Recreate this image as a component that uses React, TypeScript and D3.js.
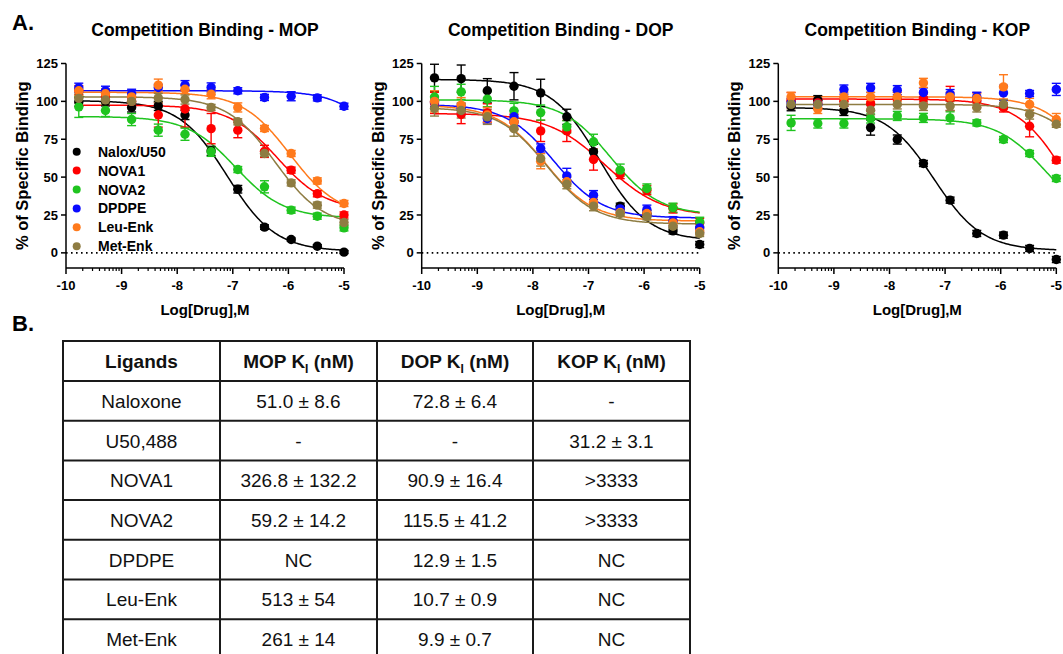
import React from "react";
import * as d3 from "d3";

// log[drug] of the 11 concentrations (3-fold dilutions)
const logDose = [-9.77, -9.29, -8.82, -8.34, -7.86, -7.39, -6.91, -6.43, -5.95, -5.48, -5.0];

const ligands = ["Nalox/U50", "NOVA1", "NOVA2", "DPDPE", "Leu-Enk", "Met-Enk"];
const colors = ["#000000", "#ff0000", "#1fc41f", "#0a0aff", "#ff7a1c", "#8e7c42"];

const xTicks = [-10, -9, -8, -7, -6, -5];
const yTicks = [0, 25, 50, 75, 100, 125];

// MOP
const mopNalox = [99.7, 100, 96, 97, 91, 67.3, 42, 17, 8.8, 4.4, 0.5];
const mopNova1 = [107.4, 103, 100, 91, 95, 82, 81, 67, 54.6, 39, 25];
const mopNova2 = [96.4, 94, 88, 81, 78.3, 66.7, 55, 43.6, 28.2, 24.2, 16.5];
const mopDpdpe = [109, 107, 105, 109.2, 110.7, 109.2, 107, 102.6, 103.4, 102.3, 96.8];
const mopLeu = [107, 105, 103, 110.7, 108, 104.7, 96, 82.1, 65.6, 47.5, 32.6];
const mopMet = [102, 101, 100, 102.3, 101.2, 96, 86.5, 65.6, 46.2, 31.5, 20];
const mopSem = [
  [3, 3, 3, 3, 3, 3, 2.5, 1.5, 1, 1, 1],
  [3, 5, 3, 8, 12, 10, 5, 4, 2, 2, 2],
  [7, 4, 4, 4, 4, 3, 2, 4, 2, 2, 2],
  [3, 3, 3, 2, 3, 3, 2, 2, 3, 2, 2],
  [3, 3, 3, 4, 3, 3, 3, 2, 2, 2, 2],
  [3, 3, 3, 3, 3, 2, 2, 2, 2, 2, 2],
];
// [top, bottom, logIC50, hill]
const mopFits = [
  [100.5, 1, -7.1, 1],
  [97.5, 28, -6.2, 1],
  [90, 23, -6.95, 1],
  [107, 0, -4.0, 1],
  [106, 24, -5.97, 1],
  [103, 17, -6.24, 1],
];

// DOP
const dopNalox = [115.5, 115, 107, 110, 105.6, 89.8, 66.7, 30.8, 26, 14.5, 5.5];
const dopNova1 = [99, 91.3, 92.4, 86.5, 80.5, 80.5, 61.6, 52, 41.4, 29.3, 19.8];
const dopNova2 = [102.9, 106.3, 101.5, 93.7, 92.6, 83.2, 73.3, 54.6, 42.5, 29.8, 20.5];
const dopDpdpe = [99.7, 95.3, 88.7, 89.8, 68.9, 50.8, 38.1, 29, 28.5, 20.9, 16.5];
const dopLeu = [100, 97.5, 91, 86.5, 60.5, 46.9, 33.2, 26.6, 26, 19.8, 13.9];
const dopMet = [95.3, 94, 89.8, 82, 62.3, 45.3, 30.8, 26, 23.8, 17.6, 12.8];
const dopSem = [
  [9, 9, 8, 9, 9, 5, 5, 2, 2, 2, 2],
  [7, 6, 6, 5, 7, 7, 7, 3, 3, 3, 3],
  [7, 5, 5, 5, 5, 4, 5, 4, 3, 3, 3],
  [3, 3, 3, 4, 3, 5, 3, 2, 3, 3, 3],
  [7, 5, 5, 5, 5, 3, 3, 2, 2, 2, 2],
  [5, 5, 5, 5, 5, 3, 3, 2, 2, 2, 2],
];
const dopFits = [
  [114.5, 8, -6.8, 1],
  [92, 24, -6.7, 0.85],
  [101, 25, -6.6, 1],
  [98, 23, -7.62, 1],
  [97.5, 21, -7.78, 1],
  [96, 19, -7.75, 1],
];

// KOP
const kopNalox = [96.8, 100.8, 93.7, 82.7, 74.8, 59, 34.8, 12.8, 11.7, 2.9, -4.4];
const kopNova1 = [100.8, 99, 100, 98.6, 101.9, 101.9, 101.9, 100.8, 96, 83.6, 61.2];
const kopNova2 = [85.8, 85.4, 85.4, 88.7, 90.4, 89.1, 89.1, 85.8, 74.8, 65.6, 49.1];
const kopDpdpe = [99, 98, 107.8, 108.9, 107.4, 105.9, 104.8, 103, 105.6, 105.2, 107.9];
const kopLeu = [103, 95, 103, 103, 103, 112.2, 103, 102, 109.6, 98, 88];
const kopMet = [98, 98, 98, 94.2, 98, 97, 97, 96, 98, 91.3, 84.9];
const kopSem = [
  [3, 3, 3, 5, 3, 2, 2, 2, 2, 2, 2],
  [5, 3, 3, 5, 4, 3, 8, 5, 3, 7, 2],
  [5, 3, 3, 3, 3, 3, 4, 2, 2, 2, 2],
  [3, 3, 3, 3, 3, 3, 3, 3, 5, 2, 4],
  [3, 3, 3, 3, 3, 3, 3, 3, 8, 4, 4],
  [3, 3, 3, 3, 3, 3, 3, 3, 3, 3, 2],
];
const kopFits = [
  [96, 1.5, -7.2, 1],
  [101.5, 0, -4.82, 1],
  [88.5, 20, -5.2, 1],
  null,
  [103, 0, -4.23, 1],
  [98, 0, -4.18, 1],
];

const panels = [
  { title: "Competition Binding - MOP", means: [mopNalox, mopNova1, mopNova2, mopDpdpe, mopLeu, mopMet], sem: mopSem, fits: mopFits, legend: true },
  { title: "Competition Binding - DOP", means: [dopNalox, dopNova1, dopNova2, dopDpdpe, dopLeu, dopMet], sem: dopSem, fits: dopFits, legend: false },
  { title: "Competition Binding - KOP", means: [kopNalox, kopNova1, kopNova2, kopDpdpe, kopLeu, kopMet], sem: kopSem, fits: kopFits, legend: false },
];

// table
const tableHeaders = ["Ligands", "MOP", "DOP", "KOP"];
const tableLigands = ["Naloxone", "U50,488", "NOVA1", "NOVA2", "DPDPE", "Leu-Enk", "Met-Enk"];
const mopKi = ["51.0 ± 8.6", "-", "326.8 ± 132.2", "59.2 ± 14.2", "NC", "513 ± 54", "261 ± 14"];
const dopKi = ["72.8 ± 6.4", "-", "90.9 ± 16.4", "115.5 ± 41.2", "12.9 ± 1.5", "10.7 ± 0.9", "9.9 ± 0.7"];
const kopKi = ["-", "31.2 ± 3.1", ">3333", ">3333", "NC", "NC", "NC"];

const FONT = "'Liberation Sans', Arial, Helvetica, sans-serif";
const PANEL_LEFT = [66, 421.7, 778.3];
const PLOT_W = 278;
const PLOT_TOP = 63.5;
const PLOT_BOTTOM = 268;

const yScale = d3.scaleLinear().domain([-10, 125]).range([PLOT_BOTTOM, PLOT_TOP]);

const hillFn = (fit: number[], x: number) => {
  const [top, bottom, ic50, hill] = fit;
  return bottom + (top - bottom) / (1 + Math.pow(10, (x - ic50) * hill));
};

const minorTicks: number[] = [];
for (let d = -10; d < -5; d++) {
  for (let k = 2; k <= 9; k++) minorTicks.push(d + Math.log10(k));
}

const Panel = ({ p, left }: { p: any; left: number }) => {
  const xScale = d3.scaleLinear().domain([-10, -5]).range([left, left + PLOT_W]);
  const cx = left + PLOT_W / 2;
  const line = d3.line<number>().x((d) => xScale(d)).y((d) => 0);
  const samples = d3.range(0, 201).map((i) => logDose[0] + (i / 200) * (logDose[logDose.length - 1] - logDose[0]));
  const curve = (fit: number[]) =>
    d3
      .line<number>()
      .x((d) => xScale(d))
      .y((d) => yScale(hillFn(fit, d)))(samples) || "";
  void line;
  return (
    <g>
      <text x={cx} y={36} textAnchor="middle" fontSize={17.5} fontWeight="bold" fontFamily={FONT}>
        {p.title}
      </text>
      {/* zero line */}
      <line x1={left} x2={left + PLOT_W} y1={yScale(0)} y2={yScale(0)} stroke="#000" strokeWidth={1.6} strokeDasharray="1.6,3.4" />
      {/* axes */}
      <line x1={left} x2={left} y1={PLOT_TOP} y2={PLOT_BOTTOM} stroke="#000" strokeWidth={1.5} />
      <line x1={left} x2={left + PLOT_W} y1={PLOT_BOTTOM} y2={PLOT_BOTTOM} stroke="#000" strokeWidth={1.5} />
      {yTicks.map((t) => (
        <g key={t}>
          <line x1={left - 5} x2={left} y1={yScale(t)} y2={yScale(t)} stroke="#000" strokeWidth={1.5} />
          <text x={left - 8} y={yScale(t) + 4.6} textAnchor="end" fontSize={13} fontWeight="bold" fontFamily={FONT}>
            {t}
          </text>
        </g>
      ))}
      {xTicks.map((t) => (
        <g key={t}>
          <line x1={xScale(t)} x2={xScale(t)} y1={PLOT_BOTTOM} y2={PLOT_BOTTOM + 6} stroke="#000" strokeWidth={1.5} />
          <text x={xScale(t)} y={290} textAnchor="middle" fontSize={13} fontWeight="bold" fontFamily={FONT}>
            {t}
          </text>
        </g>
      ))}
      {minorTicks.map((t, i) => (
        <line key={i} x1={xScale(t)} x2={xScale(t)} y1={PLOT_BOTTOM} y2={PLOT_BOTTOM + 3} stroke="#000" strokeWidth={1.2} />
      ))}
      <text x={cx} y={315} textAnchor="middle" fontSize={15} fontWeight="bold" fontFamily={FONT}>
        Log[Drug],M
      </text>
      <text
        transform={`translate(${left - 44},${(PLOT_TOP + PLOT_BOTTOM) / 2}) rotate(-90)`}
        textAnchor="middle"
        dominantBaseline="central"
        fontSize={16.5}
        fontWeight="bold"
        fontFamily={FONT}
      >
        % of Specific Binding
      </text>
      {/* fitted curves */}
      {p.fits.map((f: number[] | null, si: number) =>
        f ? <path key={si} d={curve(f)} fill="none" stroke={colors[si]} strokeWidth={1.5} /> : null
      )}
      {/* error bars */}
      {p.means.map((vals: number[], si: number) =>
        vals.map((v, i) => {
          const x = xScale(logDose[i]);
          const e = p.sem[si][i];
          return (
            <g key={`e${si}-${i}`} stroke={colors[si]} strokeWidth={1.4}>
              <line x1={x} x2={x} y1={yScale(v - e)} y2={yScale(v + e)} />
              <line x1={x - 4.5} x2={x + 4.5} y1={yScale(v - e)} y2={yScale(v - e)} />
              <line x1={x - 4.5} x2={x + 4.5} y1={yScale(v + e)} y2={yScale(v + e)} />
            </g>
          );
        })
      )}
      {/* points */}
      {p.means.map((vals: number[], si: number) =>
        vals.map((v, i) => (
          <circle key={`p${si}-${i}`} cx={xScale(logDose[i])} cy={yScale(v)} r={4.7} fill={colors[si]} />
        ))
      )}
      {p.legend &&
        ligands.map((name, i) => (
          <g key={name}>
            <circle cx={left + 10.7} cy={151.7 + i * 18.9} r={4} fill={colors[i]} />
            <text x={left + 32} y={151.7 + i * 18.9 + 5} fontSize={14} fontWeight="bold" fontFamily={FONT}>
              {name}
            </text>
          </g>
        ))}
    </g>
  );
};

const TABLE_COLS = [63, 220, 377, 533, 690];
const TABLE_TOP = 341;
const HEADER_H = 40;
const ROW_H = 39.7;

const Table = () => {
  const columns = [tableLigands, mopKi, dopKi, kopKi];
  const nRows = tableLigands.length;
  const bottom = TABLE_TOP + HEADER_H + nRows * ROW_H;
  const rowCenter = (r: number) => TABLE_TOP + HEADER_H + r * ROW_H + ROW_H / 2;
  const colCenter = (c: number) => (TABLE_COLS[c] + TABLE_COLS[c + 1]) / 2;
  return (
    <g fontFamily={FONT} fill="#111">
      {tableHeaders.map((h, c) => (
        <text key={h} x={colCenter(c)} y={TABLE_TOP + HEADER_H / 2 + 7} textAnchor="middle" fontSize={19} fontWeight="bold">
          {c === 0 ? (
            h
          ) : (
            <>
              {h} K
              <tspan fontSize={12} dy={5}>I</tspan>
              <tspan dy={-5}> (nM)</tspan>
            </>
          )}
        </text>
      ))}
      {columns.map((col, c) =>
        col.map((v, r) => (
          <text key={`${c}-${r}`} x={colCenter(c)} y={rowCenter(r) + 7} textAnchor="middle" fontSize={19}>
            {v}
          </text>
        ))
      )}
      {d3.range(nRows + 2).map((r) => {
        const y = r === 0 ? TABLE_TOP : TABLE_TOP + HEADER_H + (r - 1) * ROW_H;
        return <line key={`h${r}`} x1={TABLE_COLS[0] - 1} x2={TABLE_COLS[4] + 1} y1={y} y2={y} stroke="#1a1a1a" strokeWidth={2} />;
      })}
      {TABLE_COLS.map((x, i) => (
        <line key={`v${i}`} x1={x} x2={x} y1={TABLE_TOP} y2={bottom} stroke="#1a1a1a" strokeWidth={2} />
      ))}
    </g>
  );
};

export default function App() {
  return (
    <div style={{ position: "absolute", left: 0, top: 0 }}>
      <svg width={1063} height={654} style={{ display: "block", background: "#fff" }}>
        <text x={12} y={30} fontSize={22} fontWeight="bold" fontFamily={FONT}>A.</text>
        <text x={12} y={331} fontSize={22} fontWeight="bold" fontFamily={FONT}>B.</text>
        {panels.map((p, i) => (
          <Panel key={p.title} p={p} left={PANEL_LEFT[i]} />
        ))}
        <Table />
      </svg>
    </div>
  );
}
